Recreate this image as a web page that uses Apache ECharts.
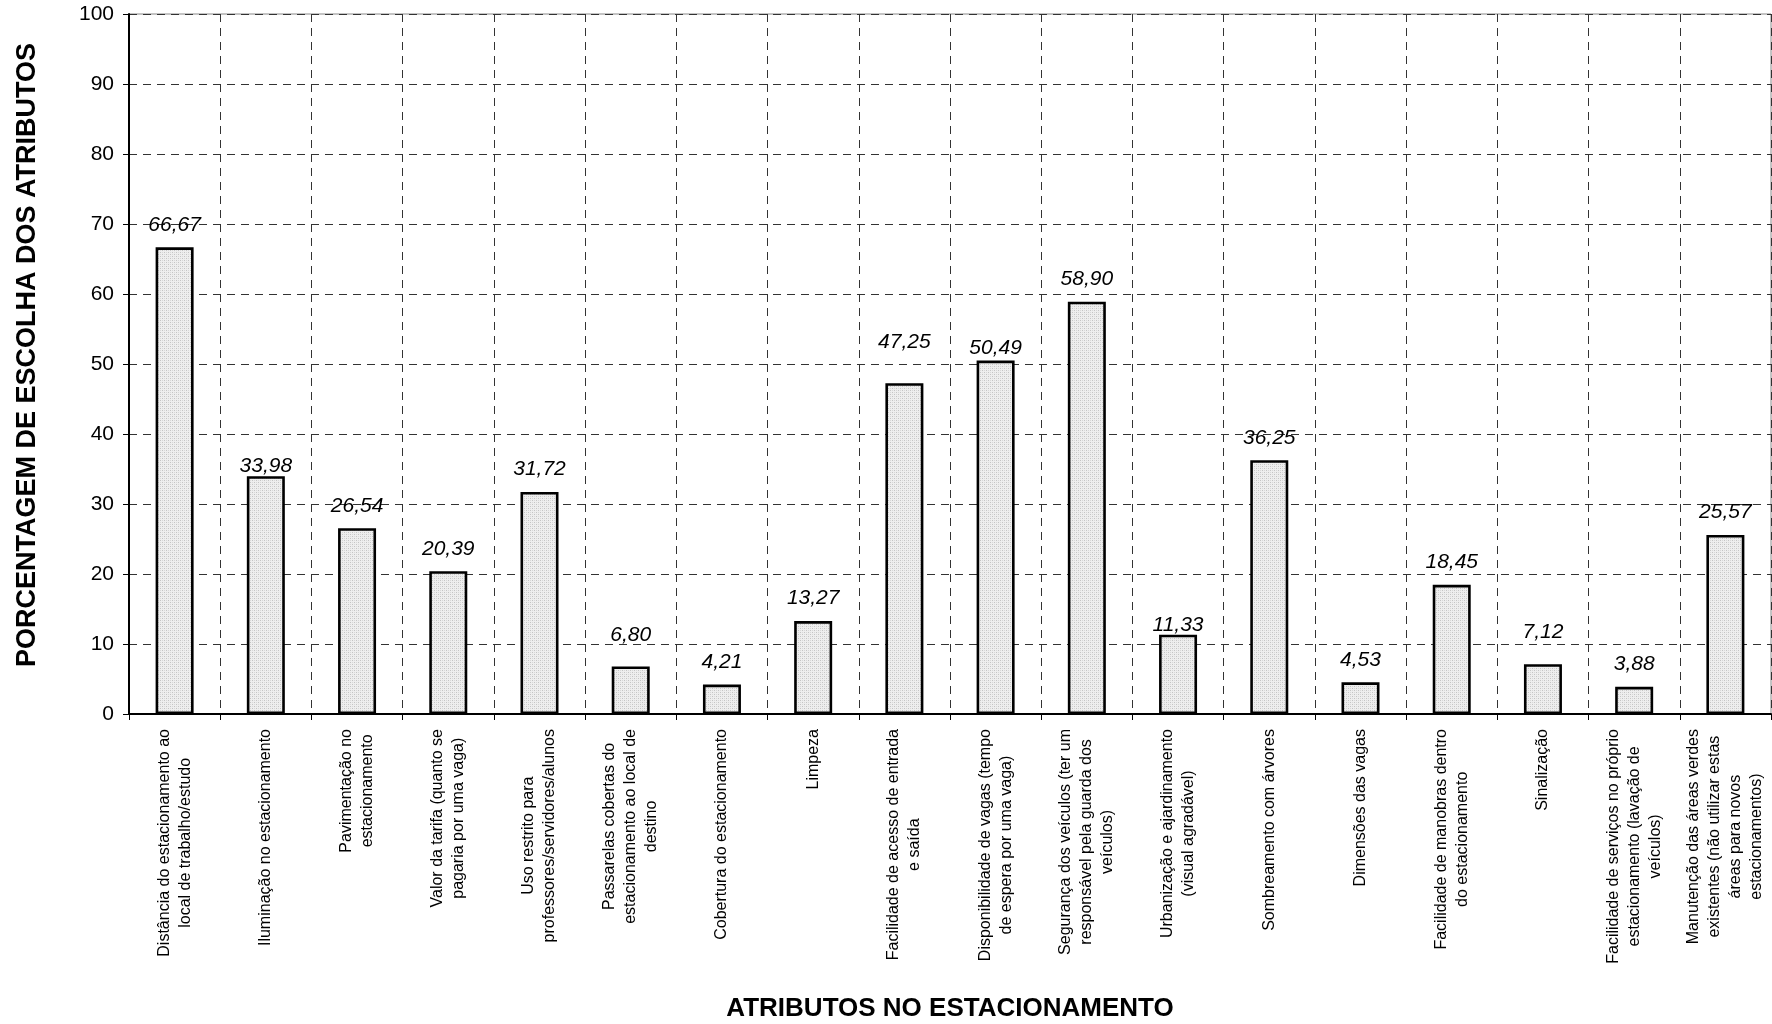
<!DOCTYPE html>
<html>
<head>
<meta charset="utf-8">
<script src="https://cdn.jsdelivr.net/npm/echarts@6/dist/echarts.min.js"></script>
<style>
  html, body { margin: 0; padding: 0; background: #ffffff; }
  #chart { width: 1772px; height: 1024px; }
</style>
</head>
<body>
<div id="chart"></div>
<script>
// Atributos avaliados (rótulos em várias linhas)
const categories = [
  'Distância do estacionamento ao\nlocal de trabalho/estudo',
  'Iluminação no estacionamento',
  'Pavimentação no\nestacionamento',
  'Valor da tarifa (quanto se\npagaria por uma vaga)',
  'Uso restrito para\nprofessores/servidores/alunos',
  'Passarelas cobertas do\nestacionamento ao local de\ndestino',
  'Cobertura do estacionamento',
  'Limpeza',
  'Facilidade de acesso de entrada\ne saída',
  'Disponibilidade de vagas (tempo\nde espera por uma vaga)',
  'Segurança dos veículos (ter um\nresponsável pela guarda dos\nveículos)',
  'Urbanização e ajardinamento\n(visual agradável)',
  'Sombreamento com árvores',
  'Dimensões das vagas',
  'Facilidade de manobras dentro\ndo estacionamento',
  'Sinalização',
  'Facilidade de serviços no próprio\nestacionamento (lavação de\nveículos)',
  'Manutenção das áreas verdes\nexistentes (não utilizar estas\náreas para novos\nestacionamentos)'
];

// Porcentagem de escolha de cada atributo
const percentages = [
  66.67, 33.98, 26.54, 20.39, 31.72, 6.80, 4.21, 13.27, 47.25,
  50.49, 58.90, 11.33, 36.25, 4.53, 18.45, 7.12, 3.88, 25.57
];

// Escala do eixo vertical
const yMin = 0;
const yMax = 100;
const yStep = 10;

const yAxisTitle = 'PORCENTAGEM DE ESCOLHA DOS ATRIBUTOS';
const xAxisTitle = 'ATRIBUTOS NO ESTACIONAMENTO';

const FONT = '"Liberation Sans", Arial, sans-serif';

// Rótulos de valor deslocados à mão (índice da barra -> deslocamento vertical em px)
const labelNudge = { 1: 13, 5: -9, 8: -19, 9: 10, 11: 13, 15: -10 };

// Pontilhado cinza claro usado no preenchimento das barras
function makeStipple() {
  const c = document.createElement('canvas');
  c.width = 4; c.height = 4;
  const g = c.getContext('2d');
  g.fillStyle = '#eeeeee';
  g.fillRect(0, 0, 4, 4);
  g.fillStyle = '#c4c4c4';
  g.fillRect(0, 0, 1, 1);
  g.fillRect(2, 2, 1, 1);
  g.fillStyle = '#d8d8d8';
  g.fillRect(2, 0, 1, 1);
  g.fillRect(0, 2, 1, 1);
  return c;
}

const chart = echarts.init(document.getElementById('chart'), null, { renderer: 'canvas' });

const gridLine = { color: '#333333', width: 1, type: [8, 6] };

const barData = percentages.map(function (v, i) {
  return { value: v, label: { offset: [0, labelNudge[i] || 0] } };
});

chart.setOption({
  animation: false,
  backgroundColor: '#ffffff',
  grid: {
    left: 129, right: 1, top: 14, bottom: 310,
    outerBoundsMode: 'none',
    show: true, borderColor: '#888888', borderWidth: 1, backgroundColor: 'transparent'
  },
  xAxis: {
    type: 'category',
    data: categories,
    boundaryGap: true,
    name: xAxisTitle,
    nameLocation: 'middle',
    nameGap: 282,
    nameTextStyle: { fontFamily: FONT, fontSize: 26, fontWeight: 'bold', color: '#000000' },
    axisLine: { show: true, lineStyle: { color: '#000000', width: 2 } },
    axisTick: { show: true, length: 6, interval: 0, lineStyle: { color: '#000000', width: 1 } },
    splitLine: { show: true, interval: 0, lineStyle: gridLine },
    axisLabel: {
      interval: 0,
      rotate: 90,
      margin: 15,
      color: '#000000',
      fontFamily: FONT,
      fontSize: 16,
      formatter: function (v) {
        return v.split('\n').map(function (l) { return '{c|' + l + '}'; }).join('\n');
      },
      rich: {
        c: { align: 'center', fontFamily: FONT, fontSize: 16, lineHeight: 21, color: '#000000' }
      }
    }
  },
  yAxis: {
    type: 'value',
    min: yMin,
    max: yMax,
    interval: yStep,
    name: yAxisTitle,
    nameLocation: 'middle',
    nameGap: 88,
    nameTextStyle: {
      fontFamily: FONT, fontSize: 27, fontWeight: 'bold', color: '#000000',
      padding: [0, 0, 0, 18]
    },
    axisLine: { show: true, lineStyle: { color: '#000000', width: 2 } },
    axisTick: { show: true, length: 6, lineStyle: { color: '#000000', width: 1 } },
    splitLine: { show: true, lineStyle: gridLine },
    axisLabel: { margin: 15, color: '#000000', fontFamily: FONT, fontSize: 21 }
  },
  series: [{
    type: 'bar',
    data: barData,
    barWidth: 38,
    itemStyle: {
      color: { image: makeStipple(), repeat: 'repeat' },
      borderColor: '#000000',
      borderWidth: 2.6
    },
    label: {
      show: true,
      position: 'top',
      distance: 12,
      fontFamily: FONT,
      fontSize: 21,
      fontStyle: 'italic',
      color: '#000000',
      formatter: function (p) { return p.value.toFixed(2).replace('.', ','); }
    }
  }]
});
</script>
</body>
</html>
